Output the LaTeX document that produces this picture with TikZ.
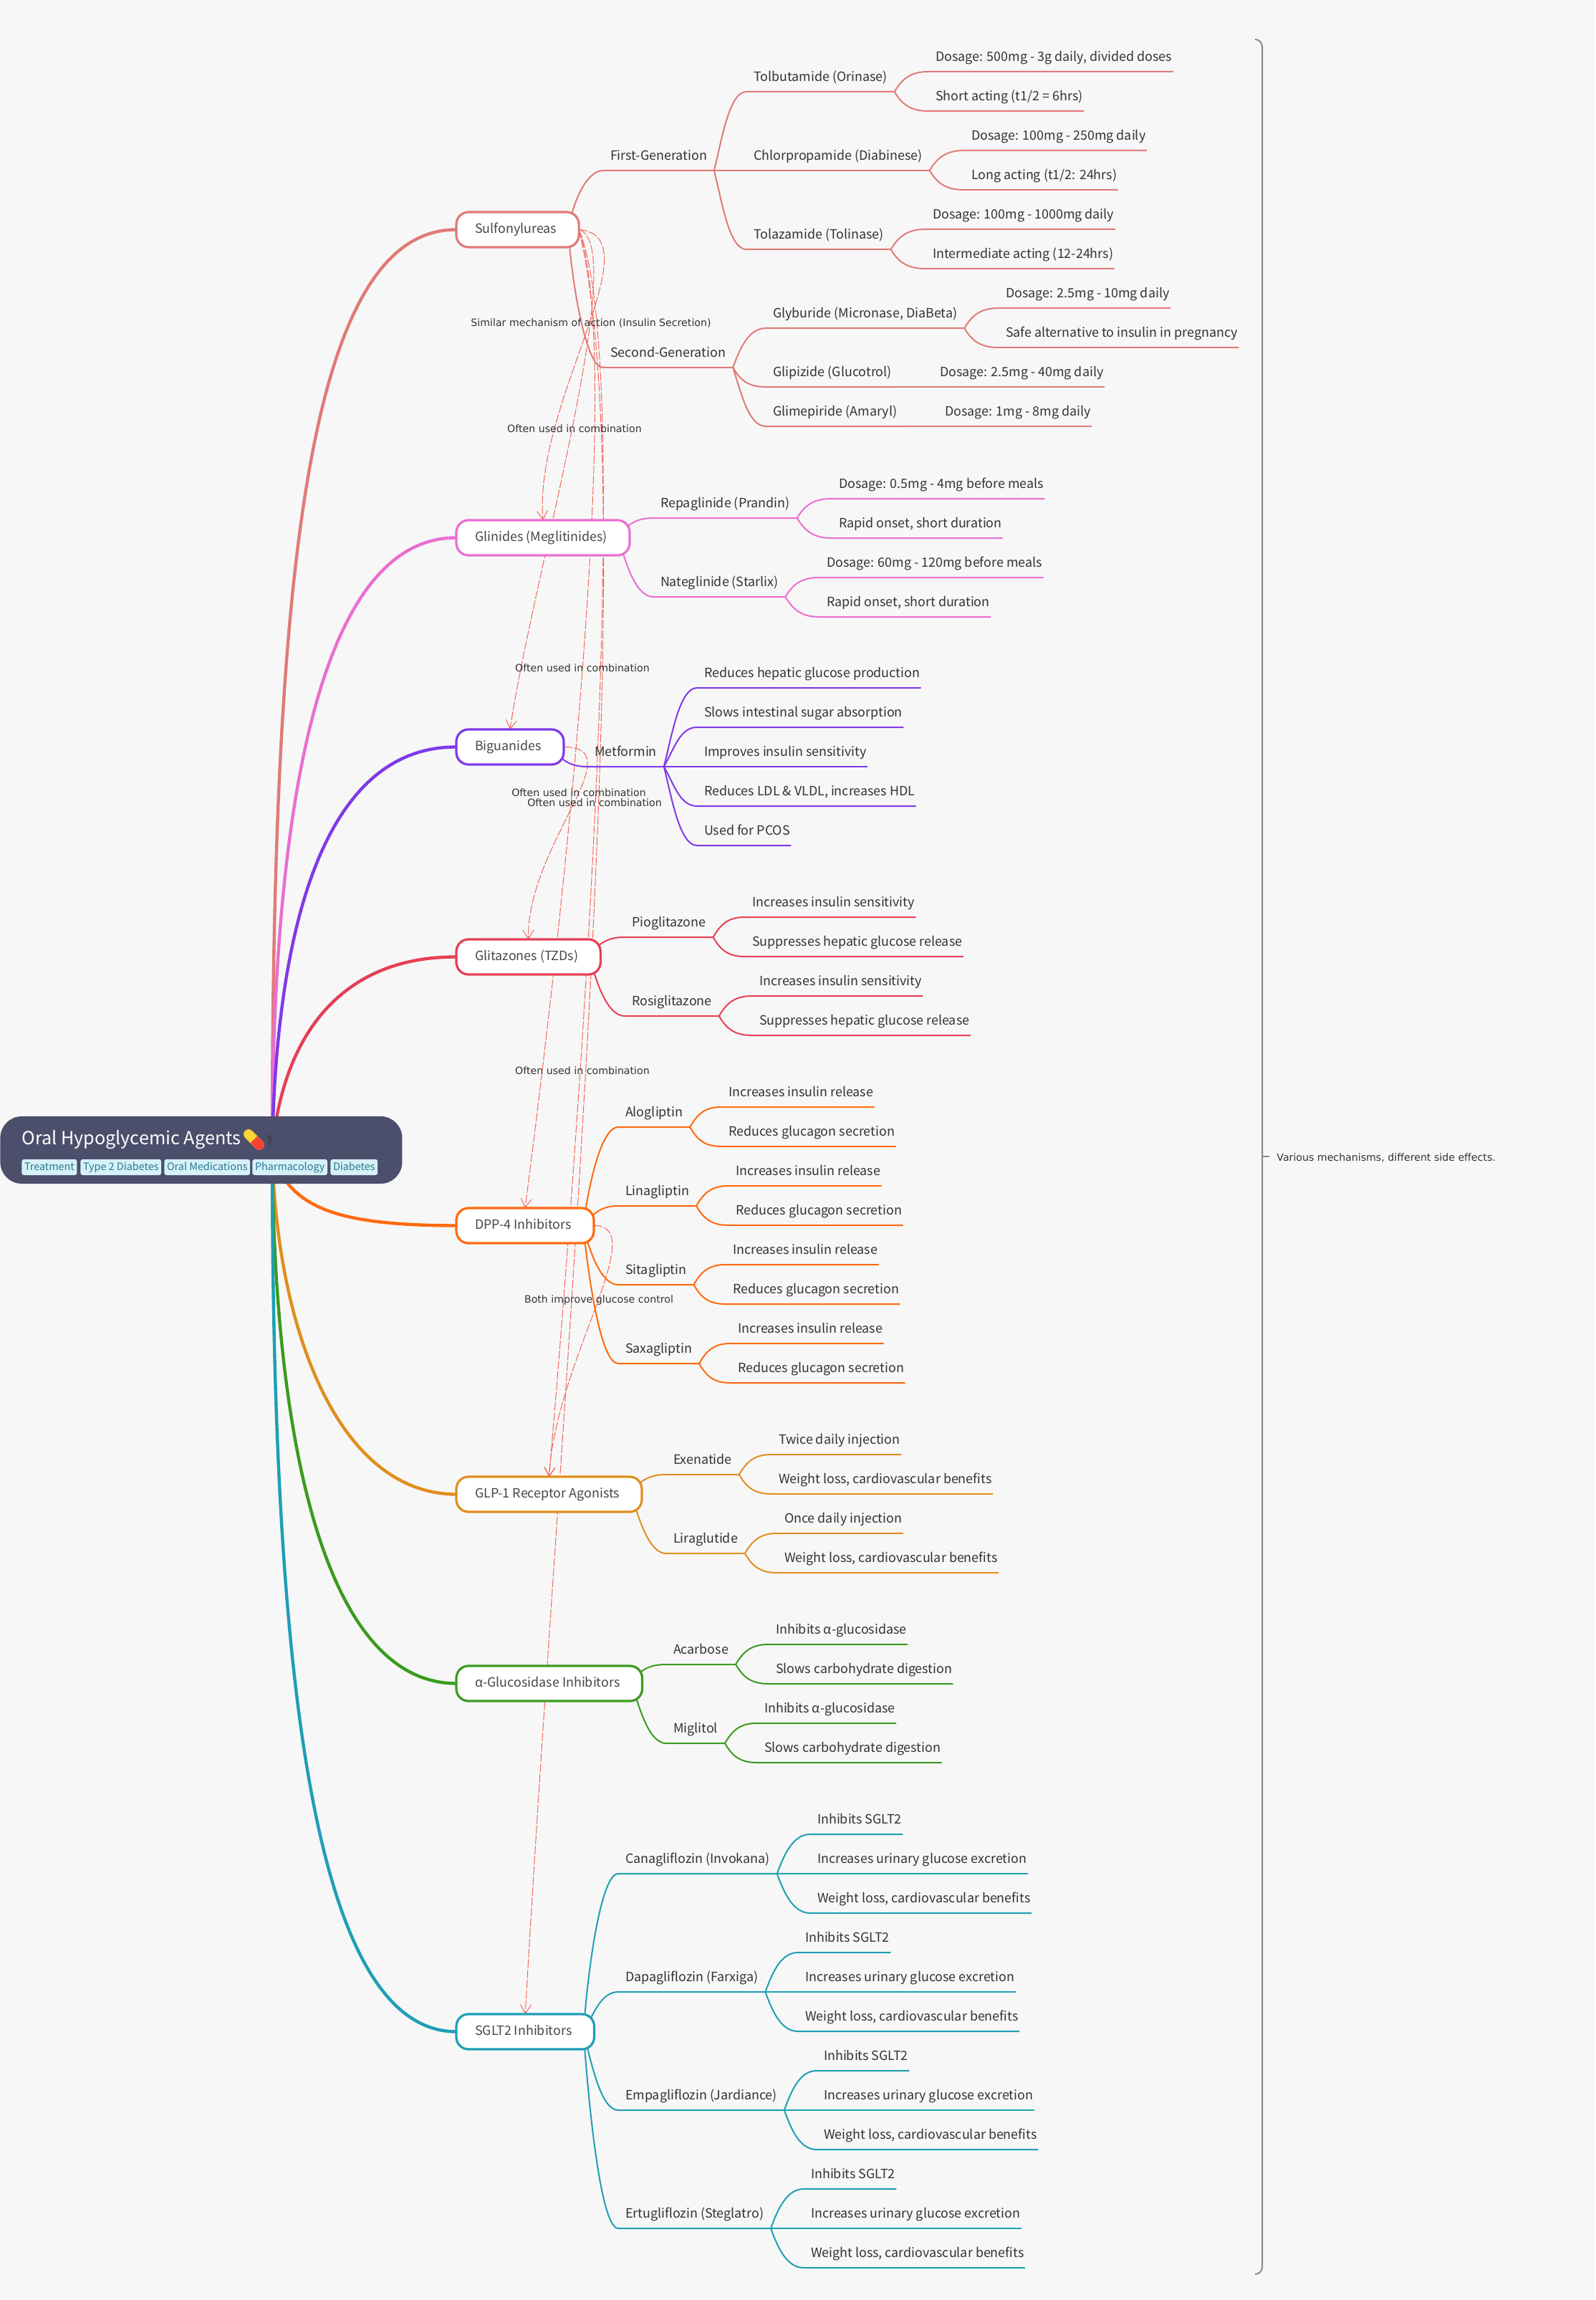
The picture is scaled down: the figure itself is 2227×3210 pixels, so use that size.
\documentclass[tikz,border=0pt]{standalone}
\usepackage{fontspec}
\setmainfont{Noto Sans CJK SC}
\newfontfamily\linkfont{DejaVu Sans}
\newfontfamily\emojifont{Noto Emoji}
\usetikzlibrary{arrows.meta,backgrounds}
\definecolor{pagegrey}{HTML}{F7F7F7}
\definecolor{rootslate}{HTML}{4C4F6B}
\definecolor{tagfill}{HTML}{D6F1F8}
\definecolor{taginkc}{HTML}{2A7A93}
\definecolor{inkdark}{HTML}{333333}
\definecolor{inkbox}{HTML}{474747}
\definecolor{linkred}{HTML}{F2665C}
\definecolor{bracegrey}{HTML}{8A8A8A}
\definecolor{pillyellow}{HTML}{FDD835}
\definecolor{pillred}{HTML}{F44336}
\definecolor{rosec}{HTML}{E07B78}
\definecolor{pinkc}{HTML}{E96FD0}
\definecolor{purplec}{HTML}{7F39E8}
\definecolor{redc}{HTML}{E63F55}
\definecolor{orangec}{HTML}{FF6A0D}
\definecolor{amberc}{HTML}{E08E1E}
\definecolor{greenc}{HTML}{3A9B1F}
\definecolor{tealc}{HTML}{1E9FB5}
\begin{document}
\begin{tikzpicture}[
        x=0.5pt,
        y=-0.5pt,
        >={Straight Barb[length=6pt,width=7.5pt]},
        font=\fontsize{8.95}{11}\selectfont,
        text=inkdark
    ]
    \tikzset{
        rootbox/.style = {rectangle, anchor=west, fill=rootslate, rounded corners=15pt, minimum width=280.5pt, minimum height=47pt, inner sep=0pt},
        tagbox/.style = {rectangle, anchor=west, fill=tagfill, text=taginkc, rounded corners=1.5pt, inner xsep=1.8pt, inner ysep=0pt, minimum height=11pt, text height=6.5pt, text depth=1.8pt, font=\fontsize{7.2}{9}\selectfont},
        drugclass/.style = {rectangle, draw=#1, anchor=west, fill=white, text=inkbox, line width=1.6pt, rounded corners=8.5pt, inner xsep=13pt, inner ysep=0pt, outer sep=0pt, minimum height=24.5pt, text height=7.5pt, text depth=2.5pt, execute at end node=\kern2.5pt},
        twig/.style = {anchor=south west, inner sep=0pt, outer sep=0pt, text depth=7.25pt, execute at begin node=\kern5pt, execute at end node=\kern5pt},
        leaf/.style = {anchor=south west, inner sep=0pt, outer sep=0pt, text depth=7.25pt, execute at begin node=\kern5pt, execute at end node=\kern.75pt},
        trunk/.style = {draw=#1, line width=2.2pt},
        limb/.style = {draw=#1, line width=1pt},
        sprout/.style = {out=#1, in=180, in distance=12pt},
        relation/.style = {draw=linkred, line width=.5pt, dash pattern=on 6pt off 1.2pt, ->},
        relationtext/.style = {inner sep=0pt, font=\linkfont\fontsize{7.08}{8}\selectfont},
    }
    \node[rootbox] (root) at (0,1605) {};
    \node[anchor=base west, inner sep=0pt, text=white, font=\fontsize{12.6}{15}\selectfont] (rootTitle) at (30,1597) {Oral Hypoglycemic Agents};
    \fill[pillyellow, rotate around={-45:(354.5,1590.5)}, rounded corners=3.5pt] (337,1583.5) rectangle (372,1597.5);
    \fill[pillred, rotate around={-45:(354.5,1590.5)}] (354.5,1583.5) [rounded corners=3.5pt] -- (372,1583.5) -- (372,1597.5) [sharp corners] -- (354.5,1597.5) -- cycle;
    \node[inner sep=0pt, text=pillred, opacity=.2, font=\emojifont\fontsize{12}{12}\selectfont] (rootPill) at (354.5,1590.5) {💊};
    \node[inner sep=0pt, text=inkdark, font=\linkfont\fontsize{9}{9}\selectfont] (rootStaff) at (377,1590) {⚕};
    \node[tagbox] (tagTreatment) at (30,1629) {Treatment};
    \node[tagbox] (tagType) at (112,1629) {Type 2 Diabetes};
    \node[tagbox] (tagOral) at (229,1629) {Oral Medications};
    \node[tagbox] (tagPharma) at (352,1629) {Pharmacology};
    \node[tagbox] (tagDiabetes) at (461,1629) {Diabetes};

    \node[drugclass=rosec] (sulf) at (637,320.5) {Sulfonylureas};
    \node[drugclass=pinkc] (glinides) at (637,750.5) {Glinides (Meglitinides)};
    \node[drugclass=purplec] (biguanides) at (637,1042.5) {Biguanides};
    \node[drugclass=redc] (glitazones) at (637,1335.5) {Glitazones (TZDs)};
    \node[drugclass=orangec] (dpp) at (637,1710.5) {DPP-4 Inhibitors};
    \node[drugclass=amberc] (glp) at (637,2085.5) {GLP-1 Receptor Agonists};
    \node[drugclass=greenc] (alpha) at (637,2349.5) {α-Glucosidase Inhibitors};
    \node[drugclass=tealc] (sglt) at (637,2835.5) {SGLT2 Inhibitors};

    \node[twig] (firstGen) at (842,238) {First-Generation};
    \node[twig] (secondGen) at (842,513) {Second-Generation};
    \node[twig] (tolbut) at (1042,128) {Tolbutamide (Orinase)};
    \node[twig] (chlorp) at (1042,238) {Chlorpropamide (Diabinese)};
    \node[twig] (tolaz) at (1042,348) {Tolazamide (Tolinase)};
    \node[leaf] (tolbutDose) at (1296,100) {Dosage: 500mg - 3g daily, divided doses};
    \node[leaf] (tolbutSpan) at (1296,155) {Short acting (t1/2 = 6hrs)};
    \node[leaf] (chlorpDose) at (1346,210) {Dosage: 100mg - 250mg daily};
    \node[leaf] (chlorpSpan) at (1346,265) {Long acting (t1/2: 24hrs)};
    \node[leaf] (tolazDose) at (1292,320) {Dosage: 100mg - 1000mg daily};
    \node[leaf] (tolazSpan) at (1292,375) {Intermediate acting (12-24hrs)};
    \node[twig] (glybur) at (1069,458) {Glyburide (Micronase, DiaBeta)};
    \node[twig] (glipiz) at (1069,540) {Glipizide (Glucotrol)};
    \node[twig] (glimep) at (1069,595) {Glimepiride (Amaryl)};
    \node[leaf] (glyburDose) at (1394,430) {Dosage: 2.5mg - 10mg daily};
    \node[leaf] (glyburSafe) at (1394,485) {Safe alternative to insulin in pregnancy};
    \node[leaf] (glipizDose) at (1302,540) {Dosage: 2.5mg - 40mg daily};
    \node[leaf] (glimepDose) at (1309,595) {Dosage: 1mg - 8mg daily};

    \node[twig] (repagl) at (912,723) {Repaglinide (Prandin)};
    \node[twig] (nategl) at (912,833) {Nateglinide (Starlix)};
    \node[leaf] (repaglDose) at (1161,696) {Dosage: 0.5mg - 4mg before meals};
    \node[leaf] (repaglOnset) at (1161,751) {Rapid onset, short duration};
    \node[leaf] (nateglDose) at (1144,806) {Dosage: 60mg - 120mg before meals};
    \node[leaf] (nateglOnset) at (1144,861) {Rapid onset, short duration};

    \node[twig] (metformin) at (820,1070) {Metformin};
    \node[leaf] (metHepatic) at (973,960) {Reduces hepatic glucose production};
    \node[leaf] (metGut) at (973,1015) {Slows intestinal sugar absorption};
    \node[leaf] (metSens) at (973,1070) {Improves insulin sensitivity};
    \node[leaf] (metLipid) at (973,1125) {Reduces LDL \& VLDL, increases HDL};
    \node[leaf] (metPcos) at (973,1180) {Used for PCOS};

    \node[twig] (piogli) at (872,1308) {Pioglitazone};
    \node[twig] (rosigli) at (872,1418) {Rosiglitazone};
    \node[leaf] (piogliSens) at (1040,1280) {Increases insulin sensitivity};
    \node[leaf] (piogliRel) at (1040,1335) {Suppresses hepatic glucose release};
    \node[leaf] (rosigliSens) at (1050,1390) {Increases insulin sensitivity};
    \node[leaf] (rosigliRel) at (1050,1445) {Suppresses hepatic glucose release};

    \node[twig] (alogl) at (863,1573) {Alogliptin};
    \node[twig] (linagl) at (863,1683) {Linagliptin};
    \node[twig] (sitagl) at (863,1793) {Sitagliptin};
    \node[twig] (saxagl) at (863,1903) {Saxagliptin};
    \node[leaf] (aloglUp) at (1007,1545) {Increases insulin release};
    \node[leaf] (aloglDown) at (1007,1600) {Reduces glucagon secretion};
    \node[leaf] (linaglUp) at (1017,1655) {Increases insulin release};
    \node[leaf] (linaglDown) at (1017,1710) {Reduces glucagon secretion};
    \node[leaf] (sitaglUp) at (1013,1765) {Increases insulin release};
    \node[leaf] (sitaglDown) at (1013,1820) {Reduces glucagon secretion};
    \node[leaf] (saxaglUp) at (1020,1875) {Increases insulin release};
    \node[leaf] (saxaglDown) at (1020,1930) {Reduces glucagon secretion};

    \node[twig] (exenat) at (930,2058) {Exenatide};
    \node[twig] (liragl) at (930,2168) {Liraglutide};
    \node[leaf] (exenatDose) at (1077,2030) {Twice daily injection};
    \node[leaf] (exenatGain) at (1077,2085) {Weight loss, cardiovascular benefits};
    \node[leaf] (liraglDose) at (1085,2140) {Once daily injection};
    \node[leaf] (liraglGain) at (1085,2195) {Weight loss, cardiovascular benefits};

    \node[twig] (acarb) at (930,2323) {Acarbose};
    \node[twig] (miglit) at (930,2433) {Miglitol};
    \node[leaf] (acarbBlock) at (1073,2295) {Inhibits α-glucosidase};
    \node[leaf] (acarbSlow) at (1073,2350) {Slows carbohydrate digestion};
    \node[leaf] (miglitBlock) at (1057,2405) {Inhibits α-glucosidase};
    \node[leaf] (miglitSlow) at (1057,2460) {Slows carbohydrate digestion};

    \node[twig] (canagl) at (863,2615) {Canagliflozin (Invokana)};
    \node[twig] (dapagl) at (863,2780) {Dapagliflozin (Farxiga)};
    \node[twig] (empagl) at (863,2945) {Empagliflozin (Jardiance)};
    \node[twig] (ertugl) at (863,3110) {Ertugliflozin (Steglatro)};
    \node[leaf] (canaglBlock) at (1131,2560) {Inhibits SGLT2};
    \node[leaf] (canaglUrine) at (1131,2615) {Increases urinary glucose excretion};
    \node[leaf] (canaglGain) at (1131,2670) {Weight loss, cardiovascular benefits};
    \node[leaf] (dapaglBlock) at (1114,2725) {Inhibits SGLT2};
    \node[leaf] (dapaglUrine) at (1114,2780) {Increases urinary glucose excretion};
    \node[leaf] (dapaglGain) at (1114,2835) {Weight loss, cardiovascular benefits};
    \node[leaf] (empaglBlock) at (1140,2890) {Inhibits SGLT2};
    \node[leaf] (empaglUrine) at (1140,2945) {Increases urinary glucose excretion};
    \node[leaf] (empaglGain) at (1140,3000) {Weight loss, cardiovascular benefits};
    \node[leaf] (ertuglBlock) at (1122,3055) {Inhibits SGLT2};
    \node[leaf] (ertuglUrine) at (1122,3110) {Increases urinary glucose excretion};
    \node[leaf] (ertuglGain) at (1122,3165) {Weight loss, cardiovascular benefits};

    \node[relationtext] (labelSimilar) at (825,451) {Similar mechanism of action (Insulin Secretion)};
    \node[relationtext] (labelBiguanides) at (802,598) {Often used in combination};
    \node[relationtext] (labelDpp) at (813,932) {Often used in combination};
    \node[relationtext] (labelGlitazones) at (808,1106) {Often used in combination};
    \node[relationtext] (labelGlp) at (830,1120) {Often used in combination};
    \node[relationtext] (labelSglt) at (813,1494) {Often used in combination};
    \node[relationtext] (labelBoth) at (836,1815) {Both improve glucose control};
    \node[relationtext, anchor=west] (summaryNote) at (1782,1616) {Various mechanisms, different side effects.};

    \coordinate (hub) at (380,1605);
    \coordinate (braceUpper) at (1752,55);
    \coordinate (braceSpineTop) at (1762,65);
    \coordinate (braceSpineBottom) at (1762,3164);
    \coordinate (braceLower) at (1752,3174);
    \coordinate (braceMid) at (1762,1614);
    \coordinate (braceTick) at (1772,1614);

    \begin{scope}[on background layer]
        \fill[pagegrey] (0,0) rectangle (2227,3210);
        \useasboundingbox (0,0) rectangle (2227,3210);

        \draw[relation] (sulf.east) .. controls (915,330) and (745,560) .. (glinides.north);
        \draw[relation] (sulf.east) .. controls (880,340) and (745,800) .. (biguanides.north);
        \draw[relation] (sulf.east) .. controls (870,500) and (790,1250) .. (dpp.north);
        \draw[relation] (sulf.east) .. controls (885,500) and (815,1500) .. (glp.north);
        \draw[relation] (sulf.east) .. controls (900,700) and (785,1900) .. (sglt.north);
        \draw[relation] (biguanides.east) .. controls (885,1042) and (735,1180) .. (glitazones.north);
        \draw[relation] (dpp.east) .. controls (910,1710) and (775,1900) .. (glp.north);

        \draw[trunk=rosec] (hub) .. controls (380,800) and (430,320) .. (sulf.west);
        \draw[trunk=pinkc] (hub) .. controls (380,1150) and (440,750) .. (glinides.west);
        \draw[trunk=purplec] (hub) .. controls (385,1300) and (450,1042) .. (biguanides.west);
        \draw[trunk=redc] (hub) .. controls (395,1440) and (480,1335) .. (glitazones.west);
        \draw[trunk=orangec] (hub) .. controls (400,1690) and (480,1710) .. (dpp.west);
        \draw[trunk=amberc] (hub) .. controls (385,1850) and (470,2085) .. (glp.west);
        \draw[trunk=greenc] (hub) .. controls (382,2000) and (450,2349) .. (alpha.west);
        \draw[trunk=tealc] (hub) .. controls (380,2300) and (430,2835) .. (sglt.west);

        \draw[limb=rosec] ([xshift=-7.5pt]sulf.east) to[sprout=80] (firstGen.south west) -- (firstGen.south east);
        \draw[limb=rosec] ([xshift=-7.5pt]sulf.east) to[sprout=-86] (secondGen.south west) -- (secondGen.south east);
        \draw[limb=rosec] (firstGen.south east) to[sprout=76] (tolbut.south west) -- (tolbut.south east);
        \draw[limb=rosec] (firstGen.south east) -- (chlorp.south east);
        \draw[limb=rosec] (firstGen.south east) to[sprout=-76] (tolaz.south west) -- (tolaz.south east);
        \draw[limb=rosec] (tolbut.south east) to[sprout=60] (tolbutDose.south west) -- (tolbutDose.south east);
        \draw[limb=rosec] (tolbut.south east) to[sprout=-60] (tolbutSpan.south west) -- (tolbutSpan.south east);
        \draw[limb=rosec] (chlorp.south east) to[sprout=60] (chlorpDose.south west) -- (chlorpDose.south east);
        \draw[limb=rosec] (chlorp.south east) to[sprout=-60] (chlorpSpan.south west) -- (chlorpSpan.south east);
        \draw[limb=rosec] (tolaz.south east) to[sprout=60] (tolazDose.south west) -- (tolazDose.south east);
        \draw[limb=rosec] (tolaz.south east) to[sprout=-60] (tolazSpan.south west) -- (tolazSpan.south east);
        \draw[limb=rosec] (secondGen.south east) to[sprout=70] (glybur.south west) -- (glybur.south east);
        \draw[limb=rosec] (secondGen.south east) to[sprout=-60] (glipiz.south west) -- (glipiz.south east);
        \draw[limb=rosec] (secondGen.south east) to[sprout=-72] (glimep.south west) -- (glimep.south east);
        \draw[limb=rosec] (glybur.south east) to[sprout=60] (glyburDose.south west) -- (glyburDose.south east);
        \draw[limb=rosec] (glybur.south east) to[sprout=-60] (glyburSafe.south west) -- (glyburSafe.south east);
        \draw[limb=rosec] (glipiz.south east) -- (glipizDose.south east);
        \draw[limb=rosec] (glimep.south east) -- (glimepDose.south east);

        \draw[limb=pinkc] ([xshift=-7.5pt]glinides.east) to[sprout=60] (repagl.south west) -- (repagl.south east);
        \draw[limb=pinkc] ([xshift=-7.5pt]glinides.east) to[sprout=-76] (nategl.south west) -- (nategl.south east);
        \draw[limb=pinkc] (repagl.south east) to[sprout=60] (repaglDose.south west) -- (repaglDose.south east);
        \draw[limb=pinkc] (repagl.south east) to[sprout=-60] (repaglOnset.south west) -- (repaglOnset.south east);
        \draw[limb=pinkc] (nategl.south east) to[sprout=60] (nateglDose.south west) -- (nateglDose.south east);
        \draw[limb=pinkc] (nategl.south east) to[sprout=-60] (nateglOnset.south west) -- (nateglOnset.south east);

        \draw[limb=purplec] ([xshift=-7.5pt]biguanides.east) to[sprout=-60] (metformin.south west) -- (metformin.south east);
        \draw[limb=purplec] (metformin.south east) to[sprout=76] (metHepatic.south west) -- (metHepatic.south east);
        \draw[limb=purplec] (metformin.south east) to[sprout=60] (metGut.south west) -- (metGut.south east);
        \draw[limb=purplec] (metformin.south east) -- (metSens.south east);
        \draw[limb=purplec] (metformin.south east) to[sprout=-60] (metLipid.south west) -- (metLipid.south east);
        \draw[limb=purplec] (metformin.south east) to[sprout=-76] (metPcos.south west) -- (metPcos.south east);

        \draw[limb=redc] ([xshift=-7.5pt]glitazones.east) to[sprout=60] (piogli.south west) -- (piogli.south east);
        \draw[limb=redc] ([xshift=-7.5pt]glitazones.east) to[sprout=-76] (rosigli.south west) -- (rosigli.south east);
        \draw[limb=redc] (piogli.south east) to[sprout=60] (piogliSens.south west) -- (piogliSens.south east);
        \draw[limb=redc] (piogli.south east) to[sprout=-60] (piogliRel.south west) -- (piogliRel.south east);
        \draw[limb=redc] (rosigli.south east) to[sprout=60] (rosigliSens.south west) -- (rosigliSens.south east);
        \draw[limb=redc] (rosigli.south east) to[sprout=-60] (rosigliRel.south west) -- (rosigliRel.south east);

        \draw[limb=orangec] ([xshift=-7.5pt]dpp.east) to[sprout=82] (alogl.south west) -- (alogl.south east);
        \draw[limb=orangec] ([xshift=-7.5pt]dpp.east) to[sprout=50] (linagl.south west) -- (linagl.south east);
        \draw[limb=orangec] ([xshift=-7.5pt]dpp.east) to[sprout=-76] (sitagl.south west) -- (sitagl.south east);
        \draw[limb=orangec] ([xshift=-7.5pt]dpp.east) to[sprout=-84] (saxagl.south west) -- (saxagl.south east);
        \draw[limb=orangec] (alogl.south east) to[sprout=60] (aloglUp.south west) -- (aloglUp.south east);
        \draw[limb=orangec] (alogl.south east) to[sprout=-60] (aloglDown.south west) -- (aloglDown.south east);
        \draw[limb=orangec] (linagl.south east) to[sprout=60] (linaglUp.south west) -- (linaglUp.south east);
        \draw[limb=orangec] (linagl.south east) to[sprout=-60] (linaglDown.south west) -- (linaglDown.south east);
        \draw[limb=orangec] (sitagl.south east) to[sprout=60] (sitaglUp.south west) -- (sitaglUp.south east);
        \draw[limb=orangec] (sitagl.south east) to[sprout=-60] (sitaglDown.south west) -- (sitaglDown.south east);
        \draw[limb=orangec] (saxagl.south east) to[sprout=60] (saxaglUp.south west) -- (saxaglUp.south east);
        \draw[limb=orangec] (saxagl.south east) to[sprout=-60] (saxaglDown.south west) -- (saxaglDown.south east);

        \draw[limb=amberc] ([xshift=-7.5pt]glp.east) to[sprout=60] (exenat.south west) -- (exenat.south east);
        \draw[limb=amberc] ([xshift=-7.5pt]glp.east) to[sprout=-72] (liragl.south west) -- (liragl.south east);
        \draw[limb=amberc] (exenat.south east) to[sprout=60] (exenatDose.south west) -- (exenatDose.south east);
        \draw[limb=amberc] (exenat.south east) to[sprout=-60] (exenatGain.south west) -- (exenatGain.south east);
        \draw[limb=amberc] (liragl.south east) to[sprout=60] (liraglDose.south west) -- (liraglDose.south east);
        \draw[limb=amberc] (liragl.south east) to[sprout=-60] (liraglGain.south west) -- (liraglGain.south east);

        \draw[limb=greenc] ([xshift=-7.5pt]alpha.east) to[sprout=60] (acarb.south west) -- (acarb.south east);
        \draw[limb=greenc] ([xshift=-7.5pt]alpha.east) to[sprout=-72] (miglit.south west) -- (miglit.south east);
        \draw[limb=greenc] (acarb.south east) to[sprout=60] (acarbBlock.south west) -- (acarbBlock.south east);
        \draw[limb=greenc] (acarb.south east) to[sprout=-60] (acarbSlow.south west) -- (acarbSlow.south east);
        \draw[limb=greenc] (miglit.south east) to[sprout=60] (miglitBlock.south west) -- (miglitBlock.south east);
        \draw[limb=greenc] (miglit.south east) to[sprout=-60] (miglitSlow.south west) -- (miglitSlow.south east);

        \draw[limb=tealc] ([xshift=-7.5pt]sglt.east) to[sprout=86] (canagl.south west) -- (canagl.south east);
        \draw[limb=tealc] ([xshift=-7.5pt]sglt.east) to[sprout=60] (dapagl.south west) -- (dapagl.south east);
        \draw[limb=tealc] ([xshift=-7.5pt]sglt.east) to[sprout=-76] (empagl.south west) -- (empagl.south east);
        \draw[limb=tealc] ([xshift=-7.5pt]sglt.east) to[sprout=-86] (ertugl.south west) -- (ertugl.south east);
        \draw[limb=tealc] (canagl.south east) to[sprout=70] (canaglBlock.south west) -- (canaglBlock.south east);
        \draw[limb=tealc] (canagl.south east) -- (canaglUrine.south east);
        \draw[limb=tealc] (canagl.south east) to[sprout=-70] (canaglGain.south west) -- (canaglGain.south east);
        \draw[limb=tealc] (dapagl.south east) to[sprout=70] (dapaglBlock.south west) -- (dapaglBlock.south east);
        \draw[limb=tealc] (dapagl.south east) -- (dapaglUrine.south east);
        \draw[limb=tealc] (dapagl.south east) to[sprout=-70] (dapaglGain.south west) -- (dapaglGain.south east);
        \draw[limb=tealc] (empagl.south east) to[sprout=70] (empaglBlock.south west) -- (empaglBlock.south east);
        \draw[limb=tealc] (empagl.south east) -- (empaglUrine.south east);
        \draw[limb=tealc] (empagl.south east) to[sprout=-70] (empaglGain.south west) -- (empaglGain.south east);
        \draw[limb=tealc] (ertugl.south east) to[sprout=70] (ertuglBlock.south west) -- (ertuglBlock.south east);
        \draw[limb=tealc] (ertugl.south east) -- (ertuglUrine.south east);
        \draw[limb=tealc] (ertugl.south east) to[sprout=-70] (ertuglGain.south west) -- (ertuglGain.south east);

        \draw[bracegrey, line width=1pt] (braceUpper) to[out=0, in=90] (braceSpineTop) -- (braceSpineBottom) to[out=-90, in=0] (braceLower);
        \draw[bracegrey, line width=.6pt] (braceMid) -- (braceTick);
    \end{scope}
    \end{tikzpicture}
\end{document}
